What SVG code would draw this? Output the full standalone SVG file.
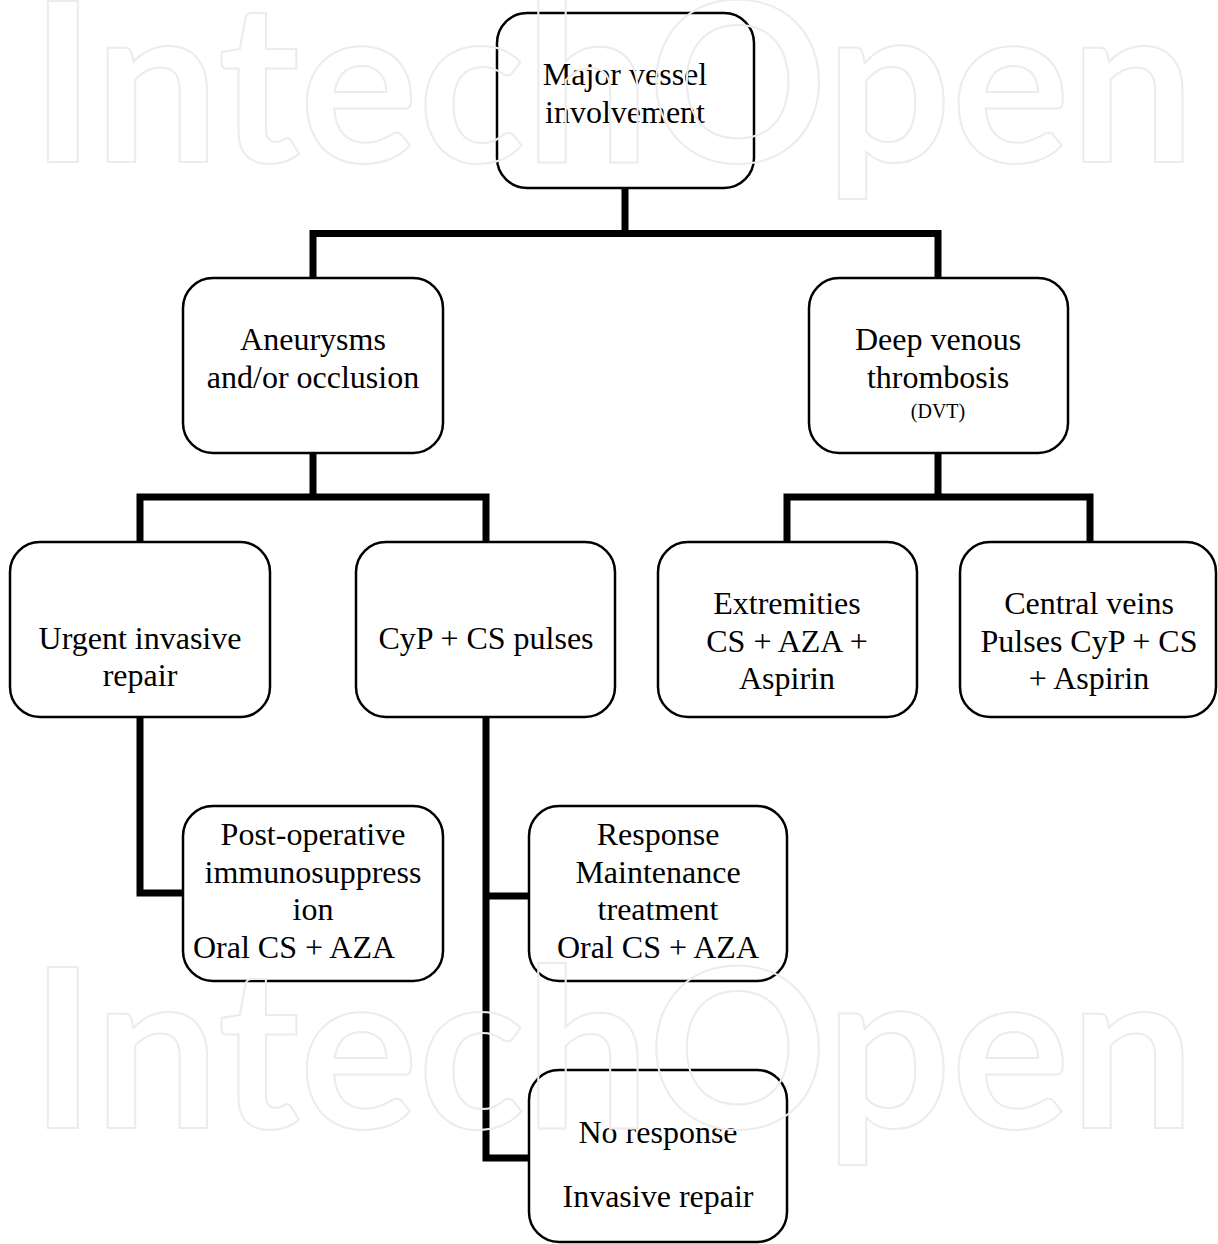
<svg xmlns="http://www.w3.org/2000/svg" width="1218" height="1244" viewBox="0 0 1218 1244">
<style>
.box{fill:#fff;stroke:#000;stroke-width:2.5}
.t{font-family:"Liberation Serif","Times New Roman",serif;font-size:32px;fill:#000;text-anchor:middle}
.s{font-size:20px}
.l{text-anchor:start}
.c{fill:none;stroke:#000;stroke-width:7;stroke-linejoin:miter;stroke-linecap:butt}
.wm{font-family:Lato,"Open Sans",sans-serif;font-weight:700;font-size:222px;fill:none;stroke:#ececec;stroke-width:2}
</style>
<rect width="1218" height="1244" fill="#fff"/>
<g id="connectors">
<path class="c" d="M625,188 V233.5 M313,278 V233.5 H938 V278"/>
<path class="c" d="M313,453 V497 M140,542 V497 H486 V542"/>
<path class="c" d="M938,453 V497 M787,542 V497 H1090 V542"/>
<path class="c" d="M140,717 V893 H183"/>
<path class="c" d="M486,717 V1158 H529 M486,896 H529"/>
</g>
<g id="n-major"><rect class="box" x="497" y="13" width="257" height="175" rx="30"/>
<text class="t" x="625" y="85">Major vessel</text><text class="t" x="625" y="123">involvement</text></g>
<g id="n-aneurysms"><rect class="box" x="183" y="278" width="260" height="175" rx="30"/>
<text class="t" x="313" y="350">Aneurysms</text><text class="t" x="313" y="388">and/or occlusion</text></g>
<g id="n-dvt"><rect class="box" x="809" y="278" width="259" height="175" rx="30"/>
<text class="t" x="938" y="350">Deep venous</text><text class="t" x="938" y="388">thrombosis</text><text class="t s" x="938" y="418">(DVT)</text></g>
<g id="n-urgent"><rect class="box" x="10" y="542" width="260" height="175" rx="30"/>
<text class="t" x="140" y="649">Urgent invasive</text><text class="t" x="140" y="686">repair</text></g>
<g id="n-cyp"><rect class="box" x="356" y="542" width="259" height="175" rx="30"/>
<text class="t" x="486" y="649">CyP + CS pulses</text></g>
<g id="n-extremities"><rect class="box" x="658" y="542" width="259" height="175" rx="30"/>
<text class="t" x="787" y="614">Extremities</text><text class="t" x="787" y="652">CS + AZA +</text><text class="t" x="787" y="689">Aspirin</text></g>
<g id="n-central"><rect class="box" x="960" y="542" width="256" height="175" rx="30"/>
<text class="t" x="1089" y="614">Central veins</text><text class="t" x="1089" y="652">Pulses CyP + CS</text><text class="t" x="1089" y="689">+ Aspirin</text></g>
<g id="n-postop"><rect class="box" x="183" y="806" width="260" height="175" rx="30"/>
<text class="t" x="313" y="845">Post-operative</text><text class="t" x="313" y="883">immunosuppress</text><text class="t" x="313" y="920">ion</text><text class="t l" x="193" y="958">Oral CS + AZA</text></g>
<g id="n-response"><rect class="box" x="529" y="806" width="258" height="175" rx="30"/>
<text class="t" x="658" y="845">Response</text><text class="t" x="658" y="883">Maintenance</text><text class="t" x="658" y="920">treatment</text><text class="t" x="658" y="958">Oral CS + AZA</text></g>
<g id="n-noresponse"><rect class="box" x="529" y="1070" width="258" height="172" rx="30"/>
<text class="t" x="658" y="1143">No response</text><text class="t" x="658" y="1207">Invasive repair</text></g>
<g id="watermark">
<text class="wm" x="30" y="162" textLength="1165" lengthAdjust="spacingAndGlyphs">IntechOpen</text>
<text class="wm" x="30" y="1128" textLength="1165" lengthAdjust="spacingAndGlyphs">IntechOpen</text>
</g>
</svg>
